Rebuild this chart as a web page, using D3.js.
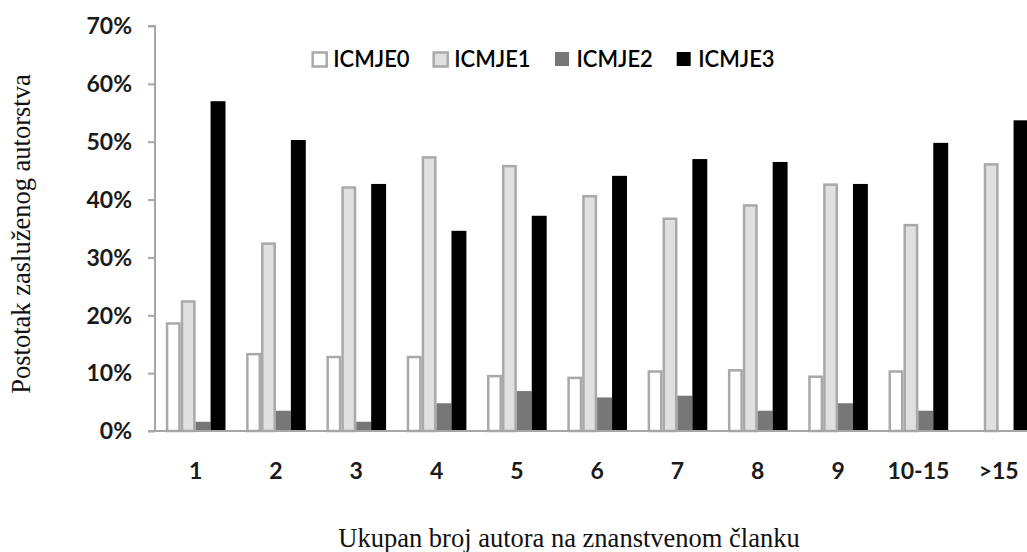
<!DOCTYPE html>
<html><head><meta charset="utf-8">
<script src="https://cdn.jsdelivr.net/npm/d3@7"></script>
<style>html,body{margin:0;padding:0;background:#fff;overflow:hidden}</style>
</head><body>
<svg id="c" width="1027" height="552"></svg>
<script>
const categories = ["1","2","3","4","5","6","7","8","9","10-15",">15"];
const seriesNames = ["ICMJE0","ICMJE1","ICMJE2","ICMJE3"];
const icmje0 = [18.8, 13.5, 13.0, 13.0, 9.7, 9.4, 10.5, 10.7, 9.6, 10.5, 0];
const icmje1 = [22.6, 32.6, 42.3, 47.5, 46.0, 40.8, 36.9, 39.2, 42.8, 35.8, 46.3];
const icmje2 = [1.6, 3.5, 1.6, 4.8, 6.9, 5.8, 6.1, 3.5, 4.8, 3.5, 0];
const icmje3 = [57.0, 50.3, 42.7, 34.6, 37.2, 44.1, 47.0, 46.5, 42.7, 49.8, 53.7];
const yTicks = [0,10,20,30,40,50,60,70];
const xTitle = "Ukupan broj autora na znanstvenom članku";
const yTitle = "Postotak zasluženog autorstva";

const seriesValues = [icmje0, icmje1, icmje2, icmje3];
const fills = ["#ffffff","#e0e0e0","#777777","#000000"];
const strokes = ["#a9a9a9","#a9a9a9","none","none"];

const svg = d3.select("#c");
const x0 = 155.5, step = 80.3;
const x = d3.scaleBand().domain(categories).range([x0, x0 + step*categories.length]).paddingInner(0.257).paddingOuter(0.1285);
const xs = d3.scaleBand().domain(seriesNames).range([0, x.bandwidth()]);
const y = d3.scaleLinear().domain([0,70]).range([431,26]);

// bars
const sw = 2.5;
seriesNames.forEach((s, si) => {
  const vals = seriesValues[si];
  const st = strokes[si] !== "none";
  svg.append("g").selectAll("rect").data(categories.map((c,i)=>({c, v: vals[i]})).filter(d=>d.v>0))
    .join("rect")
    .attr("x", d => x(d.c) + xs(s) + (st ? sw/2 : 0))
    .attr("width", xs.bandwidth() - (st ? sw : 0))
    .attr("y", d => y(d.v) + (st ? sw/2 : 0))
    .attr("height", d => y(0) - y(d.v) - (st ? sw/2 : 0))
    .attr("fill", fills[si])
    .attr("stroke", strokes[si])
    .attr("stroke-width", sw);
});

// y axis
const yAxis = svg.append("g").attr("transform","translate(155,0)")
  .call(d3.axisLeft(y).tickValues(yTicks).tickSize(7).tickPadding(16).tickFormat(d => d + "%"));
yAxis.select(".domain").attr("stroke","#a6a6a6").attr("stroke-width",2).attr("d","M-7,26H0V431H-7");
yAxis.selectAll(".tick line").attr("stroke","#a6a6a6").attr("stroke-width",2);
yAxis.selectAll(".tick text").attr("font-family","Lato, sans-serif").attr("font-weight","bold")
  .attr("font-size",23).attr("fill","#1a1a1a").attr("dy","0.34em");

// x axis
const xAxis = svg.append("g").attr("transform","translate(0,431)")
  .call(d3.axisBottom(x).tickSize(0).tickPadding(32));
xAxis.select(".domain").attr("stroke","#a6a6a6").attr("stroke-width",2).attr("d","M155,0H1027");
xAxis.selectAll(".tick text").attr("font-family","Lato, sans-serif").attr("font-weight","bold")
  .attr("font-size",23).attr("fill","#1a1a1a").attr("dy","0.71em");

// titles
svg.append("text").attr("x",569).attr("y",546.5).attr("text-anchor","middle")
  .attr("font-family","'Liberation Serif', 'Times New Roman', serif").attr("font-size",26.5).attr("fill","#111").text(xTitle);
svg.append("text").attr("transform","translate(30,234) rotate(-90)").attr("text-anchor","middle")
  .attr("font-family","'Liberation Serif', 'Times New Roman', serif").attr("font-size",26.5).attr("fill","#111").text(yTitle);

// legend
const legX = [311.7, 432.7, 555, 676.7];
const leg = svg.append("g");
seriesNames.forEach((s, si) => {
  const g = leg.append("g").attr("transform", `translate(${legX[si]},0)`);
  g.append("rect").attr("x", si<2 ? 1 : 0).attr("y", si<2 ? 52.5 : 52).attr("width", 14).attr("height", 14)
    .attr("fill", fills[si]).attr("stroke", strokes[si]).attr("stroke-width", 2.5);
  g.append("text").attr("x", 21.5).attr("y", 59.5).attr("dy","0.36em")
    .attr("font-family","Lato, sans-serif").attr("font-weight",600).attr("font-size",22).attr("fill","#000").text(s);
});
</script>
</body></html>
